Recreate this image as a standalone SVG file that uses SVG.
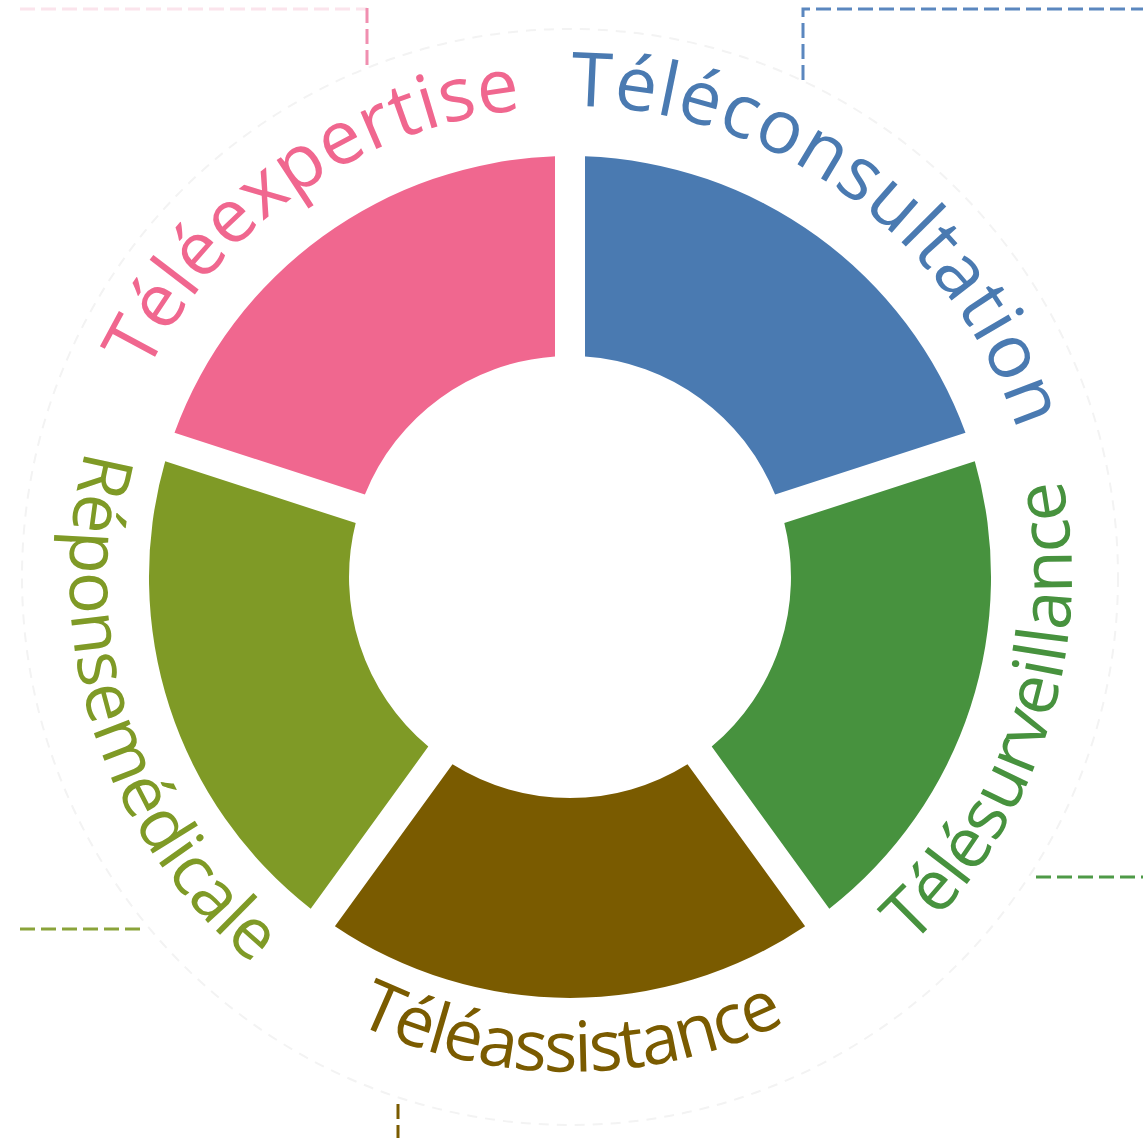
<svg xmlns="http://www.w3.org/2000/svg" width="1143" height="1138" viewBox="0 0 1143 1138">
  <style>
    .lbl { font-family: "Open Sans", "Liberation Sans", sans-serif; }
    .dash { fill: none; stroke-width: 3; stroke-dasharray: 15 6; }
  </style>
  <defs>
    <path id="pPink" d="M163,812 A470,470 0 0 1 930,274.9"/>
    <path id="pBlue" d="M214.5,268 A471,471 0 0 1 973.7,819.6"/>
    <path id="pOlive" d="M374.6,116.7 A500,500 0 0 0 682.5,1064.2"/>
    <path id="pBrown" d="M76.9,620.1 A495,495 0 0 0 1063.1,620.1"/>
    <path id="pGreen" d="M457.1,1066.1 A502,502 0 0 0 766.1,114.9"/>
  </defs>
  <rect width="1143" height="1138" fill="#ffffff"/>
  <circle cx="570" cy="577" r="548" fill="none" stroke="#f3f3f3" stroke-width="2" stroke-dasharray="10 8"/>

  <g id="connectors">
    <path class="dash" stroke="#fbe4ec" d="M20,9 H367"/>
    <path class="dash" stroke="#f08fb0" d="M367,8 V70"/>
    <path class="dash" stroke="#5b87bf" d="M803,80 V9 H1143"/>
    <path class="dash" stroke="#4e9a47" d="M1036,877 H1143"/>
    <path class="dash" stroke="#8aa33a" d="M20,929 H146"/>
    <path class="dash" stroke="#7a5b00" d="M398,1104 V1138"/>
  </g>

  <g id="teleexpertise">
    <path d="M174.5,432.8 A421,421 0 0 1 555,156.3 L555,356.5 A221,221 0 0 0 364.9,494.6 Z" fill="#f0678f"/>
    <text class="lbl" font-size="75" fill="#f0678f" letter-spacing="0.8"><textPath href="#pPink" startOffset="50%" text-anchor="middle">Téléexpertise</textPath></text>
  </g>

  <g id="teleconsultation">
    <path d="M585,156.3 A421,421 0 0 1 965.5,432.8 L775.1,494.6 A221,221 0 0 0 585,356.5 Z" fill="#4a7ab1"/>
    <text class="lbl" font-size="75" fill="#4a7ab1" letter-spacing="0.9"><textPath href="#pBlue" startOffset="50%" text-anchor="middle">Téléconsultation</textPath></text>
  </g>

  <g id="telesurveillance">
    <path d="M974.8,461.3 A421,421 0 0 1 829.3,908.7 L711.7,746.6 A221,221 0 0 0 784.3,523.1 Z" fill="#47923e"/>
    <text class="lbl" font-size="70" fill="#47923e" letter-spacing="-0.7"><textPath href="#pGreen" startOffset="50%" text-anchor="middle">Télésurveillance</textPath></text>
  </g>

  <g id="teleassistance">
    <path d="M805.1,926.2 A421,421 0 0 1 334.9,926.2 L452.5,764.2 A221,221 0 0 0 687.5,764.2 Z" fill="#7a5b00"/>
    <text class="lbl" font-size="70" fill="#7a5b00" letter-spacing="-2"><textPath href="#pBrown" startOffset="50%" text-anchor="middle">Téléassistance</textPath></text>
  </g>

  <g id="reponse-medicale">
    <path d="M310.7,908.7 A421,421 0 0 1 165.2,461.3 L355.7,523.1 A221,221 0 0 0 428.3,746.6 Z" fill="#7f9a26"/>
    <text class="lbl" font-size="70" fill="#7f9a26" letter-spacing="-0.5" word-spacing="-16"><textPath href="#pOlive" startOffset="50%" text-anchor="middle">Réponse médicale</textPath></text>
  </g>
</svg>
